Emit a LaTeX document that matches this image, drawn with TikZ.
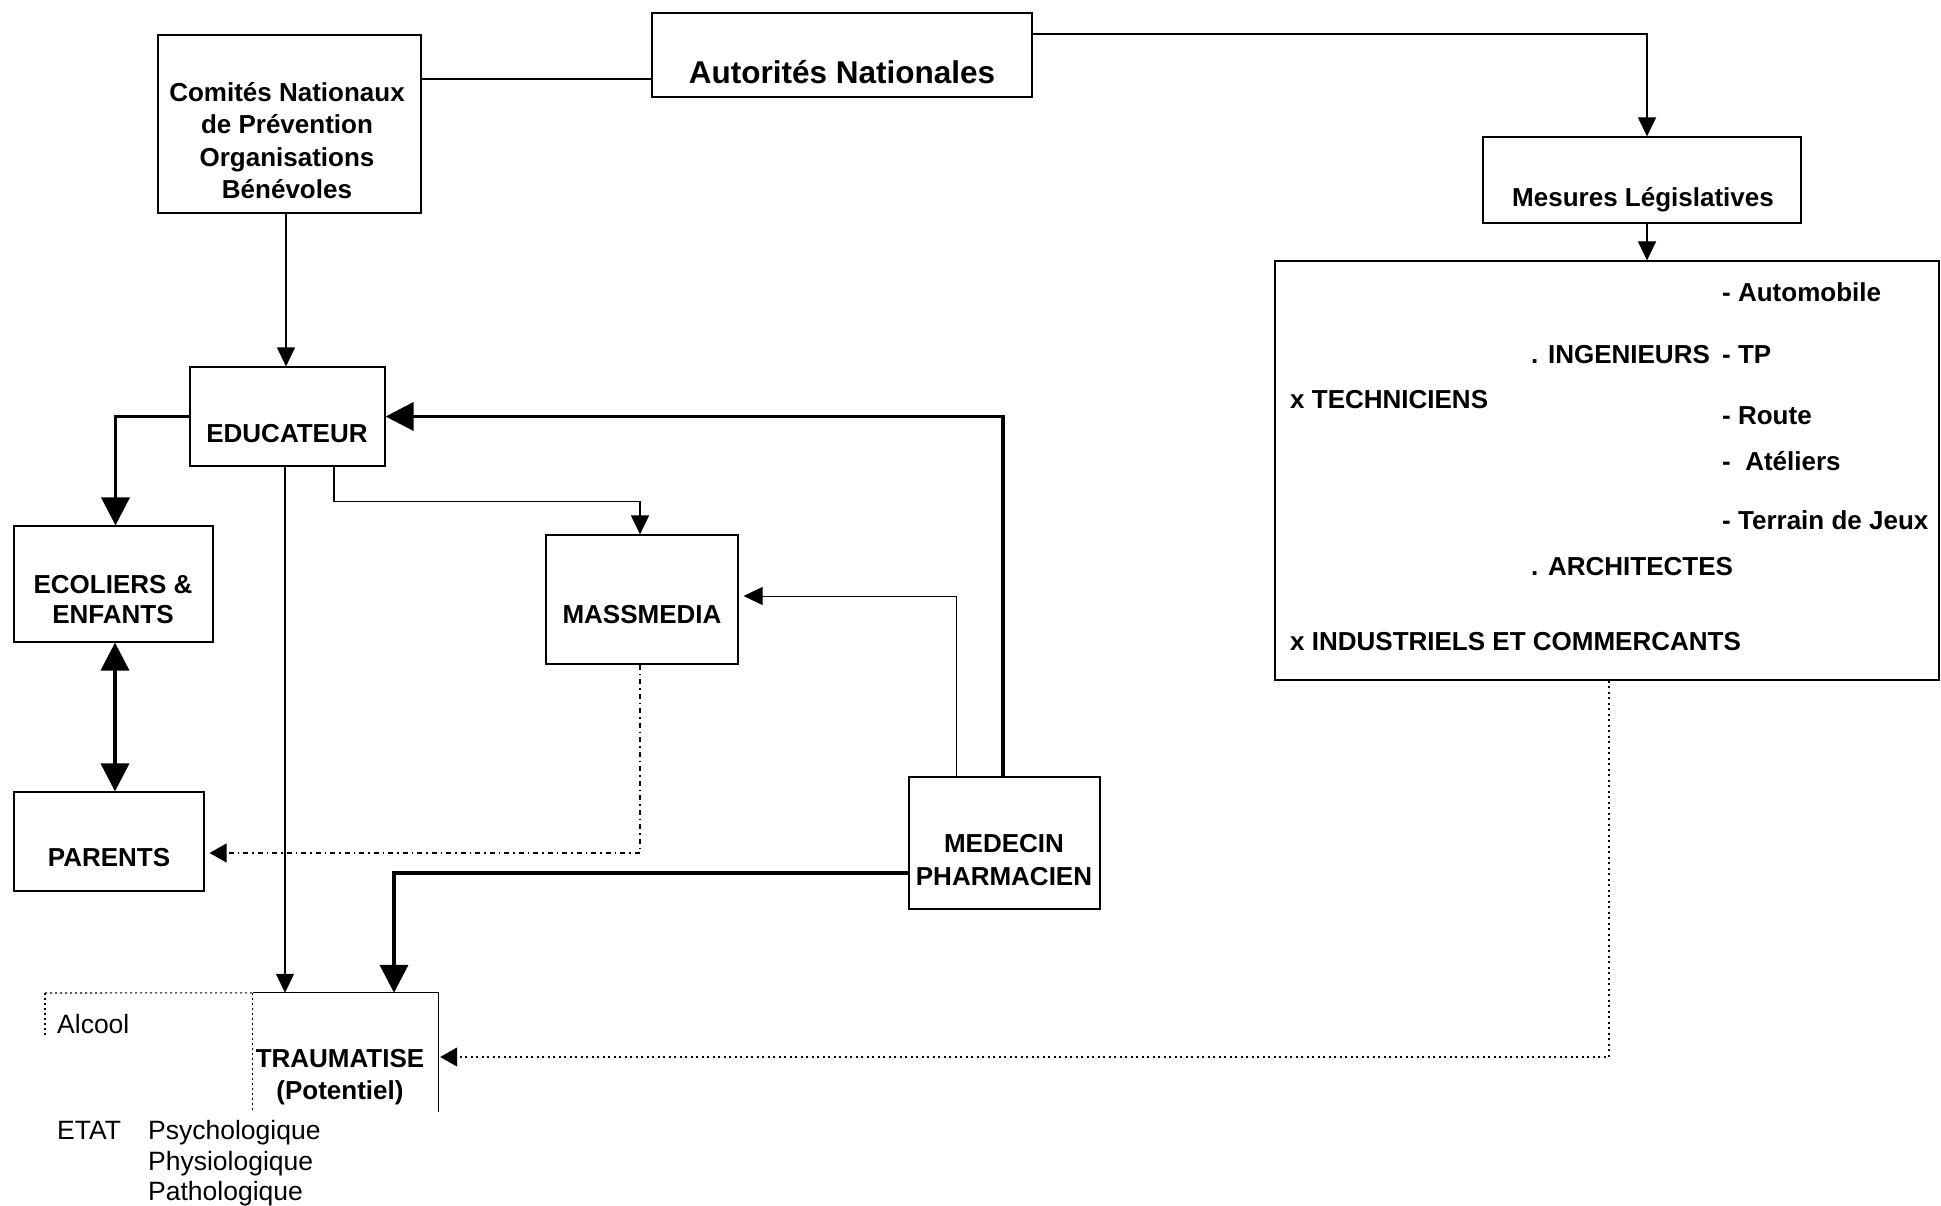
\documentclass[tikz,border=0pt]{standalone}
\usepackage{fontspec}
\setmainfont{Liberation Sans}
\usetikzlibrary{arrows.meta}

\begin{document}
\begin{tikzpicture}[x=1pt,y=-1pt,
  box/.style={draw,line width=1.2pt,inner sep=0pt},
  frame/.style={inner sep=0pt},
  plain/.style={line width=1.2pt},
  thinarr/.style={line width=1.2pt,-{Triangle[length=19pt,width=18pt]}},
  thickarr/.style={line width=3.8pt,-{Triangle[length=28pt,width=28pt]}},
  thickboth/.style={line width=3.8pt,{Triangle[length=28pt,width=28pt]}-{Triangle[length=28pt,width=28pt]}},
  dotarr/.style={line width=1.1pt,dash pattern=on 5pt off 4pt on 1.5pt off 4pt,-{Triangle[length=17pt,width=19pt]}},
  sparsearr/.style={line width=1.1pt,dash pattern=on 2pt off 3.5pt,-{Triangle[length=17pt,width=19pt]}},
  dotline/.style={line width=1.1pt,dash pattern=on 2pt off 3pt},
  lab/.style={font=\fontsize{26}{31}\selectfont\bfseries,anchor=base,inner sep=0pt},
  labl/.style={lab,anchor=base west},
  reg/.style={font=\fontsize{26.5}{31}\selectfont,anchor=base west,inner sep=0pt}]

\useasboundingbox[fill=white] (0,0) rectangle (1941,1206);

% boxes
\node[box,minimum width=380pt,minimum height=84pt] (aut) at (842,55) {};
\node[box,minimum width=263pt,minimum height=178pt] (com) at (289.5,124) {};
\node[box,minimum width=195pt,minimum height=99pt] (edu) at (287.5,416.5) {};
\node[box,minimum width=199pt,minimum height=116pt] (ecol) at (113.5,584) {};
\node[box,minimum width=190pt,minimum height=99pt] (par) at (109,841.5) {};
\node[box,minimum width=192pt,minimum height=129pt] (mass) at (642,599.5) {};
\node[box,minimum width=191pt,minimum height=132pt] (med) at (1004.5,843) {};
\node[frame,minimum width=185pt,minimum height=119pt] (trau) at (345.5,1052.5) {};
\node[box,minimum width=318pt,minimum height=86pt] (mes) at (1642,180) {};
\node[box,minimum width=664pt,minimum height=419pt] (big) at (1607,470.5) {};

% open frame round the injured person
\coordinate (alc) at (45,993);
\draw[dotline] (alc) -- (trau.north west);
\draw[plain] (trau.north west) -- (trau.north east) -- (trau.south east);
\draw[dotline] (trau.north west) -- (trau.south west);
\draw[dotline] (alc) -- ++(0,45);

% labels
\node[lab,font=\fontsize{31.5}{36}\selectfont\bfseries] (autT) at (842,83.3) {Autorités Nationales};
\node[lab] (comA) at (287,101.3) {Comités Nationaux};
\node[lab] (comB) at (287,133.3) {de Prévention};
\node[lab] (comC) at (287,166.3) {Organisations};
\node[lab] (comD) at (287,198.3) {Bénévoles};
\node[lab] (eduT) at (287,442.5) {EDUCATEUR};
\node[lab] (ecolA) at (113,593.3) {ECOLIERS \&};
\node[lab] (ecolB) at (113,623.3) {ENFANTS};
\node[lab] (parT) at (109,866.5) {PARENTS};
\node[lab] (massT) at (642,623.5) {MASSMEDIA};
\node[lab] (medA) at (1004,852.5) {MEDECIN};
\node[lab] (medB) at (1004,885) {PHARMACIEN};
\node[lab] (trauA) at (340,1067.3) {TRAUMATISE};
\node[lab] (trauB) at (340,1099.5) {(Potentiel)};
\node[lab] (mesT) at (1643,206.8) {Mesures Législatives};

\node[reg] (alcT) at (57,1033.3) {Alcool};
\node[reg] (etat) at (57,1139.5) {ETAT};
\node[reg] (etatA) at (148,1139.5) {Psychologique};
\node[reg] (etatB) at (148,1170) {Physiologique};
\node[reg] (etatC) at (148,1200) {Pathologique};

\node[labl] (bAuto) at (1722,301.3) {- Automobile};
\node[labl] (bIng) at (1531,363.3) {. INGENIEURS};
\node[labl] (bTP) at (1722,363.3) {- TP};
\node[labl] (bTech) at (1290,408) {x TECHNICIENS};
\node[labl] (bRoute) at (1722,424.3) {- Route};
\node[labl] (bAtel) at (1722,470) {-\ \ Atéliers};
\node[labl] (bJeux) at (1722,529.5) {- Terrain de Jeux};
\node[labl] (bArch) at (1531,575.5) {. ARCHITECTES};
\node[labl] (bInd) at (1290,650.4) {x INDUSTRIELS ET COMMERCANTS};

% connectors
\draw[plain] ([yshift=45pt]com.east) -- ([yshift=-24pt]aut.west);
\draw[thinarr] ([yshift=21pt]aut.east) -| ([xshift=5pt]mes.north);
\draw[thinarr] ([xshift=5pt]mes.south) -- ([xshift=5pt]mes.south |- big.north);
\draw[thinarr] ([xshift=-3.5pt]com.south) -- ([xshift=-3.5pt]com.south |- edu.north);
\draw[thickarr] (edu.west) -| ([xshift=2pt]ecol.north);
\draw[thickboth] ([xshift=1.5pt]ecol.south) -- ([xshift=1.5pt]ecol.south |- par.north);
\draw[thickarr] ([xshift=-1.5pt]med.north) |- (edu.east);
\draw[thickarr] ([yshift=-30pt]med.west) -| ([xshift=48.5pt]trau.north);
\draw[thinarr] ([xshift=-2.5pt]edu.south) -- ([xshift=-2.5pt]edu.south |- trau.north);
\draw[thinarr] ([xshift=46.5pt]edu.south) -- ++(0,35) -| ([xshift=-2pt]mass.north);
\draw[dotarr] ([xshift=-2pt]mass.south) |- ([xshift=5pt,yshift=-11.5pt]par.east);
\draw[thinarr,line width=1pt] ([xshift=-48.5pt]med.north) |- ([xshift=5pt,yshift=3.5pt]mass.east);
\draw[sparsearr] ([xshift=2pt]big.south) |- ([xshift=2pt,yshift=-4.5pt]trau.east);
\end{tikzpicture}
\end{document}
